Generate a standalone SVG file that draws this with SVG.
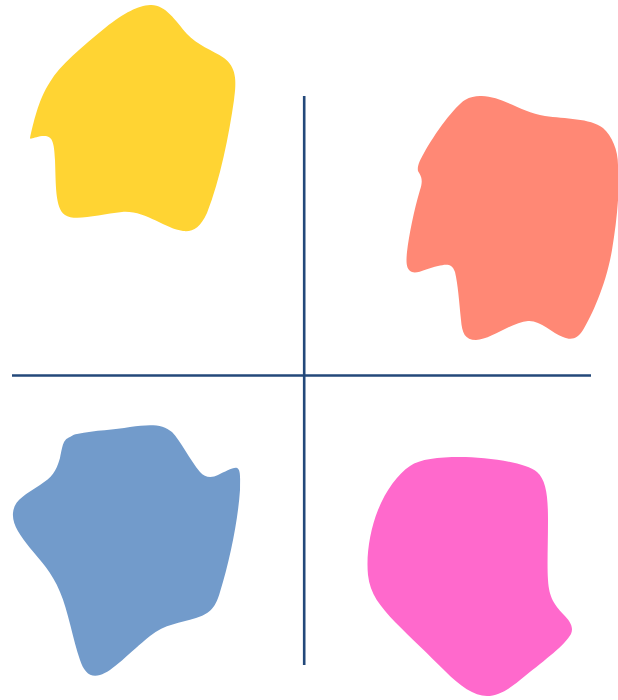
<svg xmlns="http://www.w3.org/2000/svg" width="618" height="700" viewBox="0 0 618 700">
<style>
.axis{stroke:#23487a;stroke-width:2.6;fill:none}
</style>
<rect width="618" height="700" fill="#ffffff"/>
<g id="blob-yellow">
<path fill="#ffd433" d="M150,5 C165,4 175,20 187,34 C197,45 212,50 224,58 C236,67 237,80 234,100 C229,135 220,180 207,213 C200,228 193,232 183,231 C165,229 145,210 122,212 C100,214 75,222 65,215 C55,208 56,185 55,160 C54,140 52,135 42,136 C35,137 30,140 30,138 C33,125 38,100 50,82 C60,65 82,47 105,28 C125,12 138,6 150,5 Z"/>
</g>
<g id="blob-salmon">
<path fill="#ff8875" d="M480,96 C500,95 520,112 545,116 C565,119 590,118 603,128 C612,136 618,150 618,165 C620,190 617,220 612,250 C606,285 592,315 583,330 C578,338 572,341 563,337 C552,333 540,320 528,321 C512,322 490,340 476,340 C465,340 462,333 461,320 C459,300 458,285 455,272 C452,263 446,264 438,266 C428,268 418,274 412,272 C406,270 406,262 407,252 C409,235 414,210 420,190 C424,178 420,175 418,171 C417,166 420,160 424,153 C435,133 455,106 465,100 C470,97 475,96 480,96 Z"/>
</g>
<g id="blob-blue">
<path fill="#729bcb" d="M77,434 C95,430 115,430 130,427 C150,424 163,424 172,432 C180,440 190,460 200,472 C205,478 212,478 218,475 C225,472 233,467 237,468 C241,470 240,478 240,490 C238,520 230,560 220,592 C215,610 208,614 196,618 C180,623 165,624 150,636 C130,652 112,672 100,675 C90,678 84,672 80,660 C73,640 68,610 60,592 C52,572 40,560 30,548 C20,535 12,525 13,513 C14,500 25,495 40,485 C52,477 56,472 60,458 C63,444 63,440 70,437 C73,435 75,434 77,434 Z"/>
</g>
<g id="blob-pink">
<path fill="#ff69cc" d="M460,457 C485,457 525,462 537,472 C546,480 548,495 548,520 C548,545 547,565 548,580 C549,598 555,605 563,614 C570,621 574,627 571,634 C565,645 545,660 525,676 C512,687 500,696 487,696 C474,696 460,686 445,671 C430,656 410,637 395,622 C380,606 370,594 368,575 C366,555 370,530 378,510 C386,490 398,474 410,466 C420,459 438,457 460,457 Z"/>
</g>
<g id="axes">
<line class="axis" x1="304.2" y1="96" x2="304.2" y2="665"/>
<line class="axis" x1="12" y1="375.5" x2="591" y2="375.5"/>
</g>
</svg>
